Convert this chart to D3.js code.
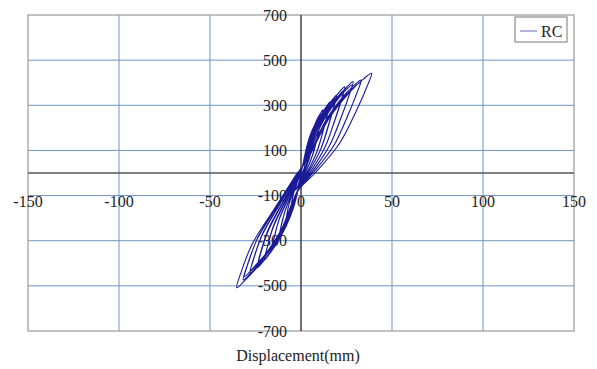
<!DOCTYPE html>
<html>
<head>
<meta charset="utf-8">
<script src="https://cdn.jsdelivr.net/npm/d3@7/dist/d3.min.js"></script>
<style>
html,body{margin:0;padding:0;background:#fff;}
svg{display:block;}
text{font-family:"Liberation Serif","Times New Roman",serif;fill:#222;}
</style>
</head>
<body>
<svg id="chart" width="597" height="369"></svg>
<script>
// ---- data ----
const seriesName = "RC";
const xTicks = [-150, -100, -50, 0, 50, 100, 150];
const yTicks = [-700, -500, -300, -100, 100, 300, 500, 700];
const xLabel = "Displacement(mm)";

// displacement (mm), one line per cycle (positive half, then negative half)
const disp = [0,
 0.2,1.2,2.1,2.6,3,2.8,2.3,1.7,0.6, -0.1,-1.1,-2.0,-2.6,-3,-2.8,-2.3,-1.2,-0.2,
 0.4,2.2,3.9,4.8,5.5,5.1,4.3,3.0,1.1, -0.2,-1.9,-3.7,-4.8,-5.5,-5.1,-4.2,-2.2,-0.3,
 0.7,3.4,6.0,7.6,8.6,8.0,6.7,4.7,1.7, -0.3,-3.0,-5.8,-7.5,-8.5,-7.9,-6.5,-3.4,-0.5,
 1.0,4.8,8.4,10.6,12,11.2,9.4,6.6,2.4, -0.5,-4.2,-8.2,-10.6,-12,-11.2,-9.1,-4.8,-0.7,
 0.9,4.6,8.1,10.1,11.5,10.7,9.0,6.3,2.3, -0.5,-4.0,-7.8,-10.1,-11.5,-10.7,-8.7,-4.6,-0.7,
 1.3,6.4,11.2,14.1,16,14.9,12.5,8.8,3.2, -0.6,-5.6,-10.9,-14.1,-16,-14.9,-12.2,-6.4,-1.0,
 1.2,6.2,10.9,13.6,15.5,14.4,12.1,8.5,3.1, -0.6,-5.4,-10.5,-13.6,-15.5,-14.4,-11.8,-6.2,-0.9,
 1.6,7.8,13.7,17.2,19.6,18.2,15.3,10.8,3.9, -0.8,-7.0,-13.6,-17.6,-20,-18.6,-15.2,-8.0,-1.2,
 1.5,7.6,13.3,16.7,19,17.7,14.8,10.5,3.8, -0.8,-6.8,-13.3,-17.2,-19.5,-18.1,-14.8,-7.8,-1.2,
 1.9,9.6,16.8,21.1,24,22.3,18.7,13.2,4.8, -1.0,-8.4,-16.3,-21.1,-24,-22.3,-18.2,-9.6,-1.4,
 1.9,9.4,16.5,20.7,23.5,21.9,18.3,12.9,4.7, -0.9,-8.2,-16.0,-20.7,-23.5,-21.9,-17.9,-9.4,-1.4,
 2.3,11.4,20.0,25.2,28.6,26.6,22.3,15.7,5.7, -1.1,-9.8,-19.0,-24.6,-28,-26.0,-21.3,-11.2,-1.7,
 2.2,11.2,19.6,24.6,28,26.0,21.8,15.4,5.6, -1.1,-9.6,-18.7,-24.2,-27.5,-25.6,-20.9,-11.0,-1.7,
 2.6,13.2,23.1,29.0,33,30.7,25.7,18.2,6.6, -1.3,-11.1,-21.6,-27.9,-31.7,-29.5,-24.1,-12.7,-1.9,
 2.6,13.0,22.8,28.6,32.5,30.2,25.4,17.9,6.5, -1.2,-10.9,-21.1,-27.3,-31,-28.8,-23.6,-12.4,-1.9,
 3.1,15.5,27.2,34.1,38.8,36.1,30.3,21.3,7.8, -1.4,-12.4,-24.0,-31.1,-35.3,-32.8,-26.8,-14.1,-2.1
];
// force (kN)
const force = [0,
 8,36,53,61,65,56,40,20,0, -11,-41,-62,-71,-75,-65,-47,-23,0,
 15,69,103,118,125,108,78,38,0, -23,-83,-123,-141,-150,-129,-93,-45,0,
 27,125,187,214,228,196,141,68,0, -33,-121,-180,-207,-220,-189,-136,-66,0,
 34,154,230,263,280,241,174,84,0, -43,-157,-234,-268,-285,-245,-177,-86,0,
 31,144,215,246,262,225,162,79,0, -40,-147,-220,-252,-268,-230,-166,-80,0,
 38,174,259,297,316,272,196,95,0, -51,-187,-279,-320,-340,-292,-211,-102,0,
 36,165,246,282,300,258,186,90,0, -48,-177,-264,-303,-322,-277,-200,-97,0,
 41,190,283,324,345,297,214,104,0, -58,-212,-316,-362,-385,-331,-239,-116,0,
 40,182,271,310,330,284,205,99,0, -55,-201,-300,-344,-366,-315,-227,-110,0,
 46,210,313,359,382,329,237,115,0, -63,-231,-344,-395,-420,-361,-260,-126,0,
 44,201,299,343,365,314,226,110,0, -60,-220,-328,-376,-400,-344,-248,-120,0,
 49,223,332,381,405,348,251,122,0, -66,-244,-363,-416,-443,-381,-275,-133,0,
 47,215,320,367,390,335,242,117,0, -64,-235,-351,-402,-428,-368,-265,-128,0,
 49,227,338,387,412,354,255,124,0, -71,-261,-389,-446,-474,-408,-294,-142,0,
 48,220,328,376,400,344,248,120,0, -69,-252,-376,-431,-458,-394,-284,-137,0,
 53,243,362,415,442,380,274,133,0, -76,-279,-417,-478,-508,-437,-315,-152,0
];

// ---- layout ----
const svg = d3.select("#chart");
const L = 28, R = 574, T = 15, B = 331;
const x = d3.scaleLinear().domain([-150, 150]).range([L, R]);
const y = d3.scaleLinear().domain([-700, 700]).range([B, T]);

// gridlines
const gridX = xTicks.filter(v => v !== 0 && v !== -150 && v !== 150);
const gridY = yTicks.filter(v => v !== -700 && v !== 700);
svg.append("g").selectAll("line").data(gridX).join("line")
  .attr("x1", d => x(d)).attr("x2", d => x(d)).attr("y1", T).attr("y2", B)
  .attr("stroke", "#6f93c2").attr("stroke-width", 1);
svg.append("g").selectAll("line").data(gridY).join("line")
  .attr("y1", d => y(d)).attr("y2", d => y(d)).attr("x1", L).attr("x2", R)
  .attr("stroke", "#6f93c2").attr("stroke-width", 1);

// plot border
svg.append("rect").attr("x", L).attr("y", T).attr("width", R - L).attr("height", B - T)
  .attr("fill", "none").attr("stroke", "#9a9a9a").attr("stroke-width", 1.2);

// zero axes
svg.append("line").attr("x1", L).attr("x2", R).attr("y1", y(0)).attr("y2", y(0))
  .attr("stroke", "#555").attr("stroke-width", 1.6);
svg.append("line").attr("x1", x(0)).attr("x2", x(0)).attr("y1", T).attr("y2", B)
  .attr("stroke", "#333").attr("stroke-width", 1.4);

// y tick labels (right-aligned next to the vertical axis)
svg.append("g").selectAll("text").data(yTicks).join("text")
  .attr("x", x(0) - 14).attr("y", d => y(d)).attr("dy", "0.35em")
  .attr("text-anchor", "end").attr("font-size", 16).text(d => d);

// x tick labels
svg.append("g").selectAll("text").data(xTicks).join("text")
  .attr("x", d => x(d)).attr("y", 207)
  .attr("text-anchor", "middle").attr("font-size", 16).text(d => d);

// data curve
const pts = disp.map((d, i) => [d, force[i]]);
const line = d3.line().x(d => x(d[0])).y(d => y(d[1])).curve(d3.curveCatmullRom.alpha(0.5));
svg.append("path").datum(pts).attr("d", line)
  .attr("fill", "none").attr("stroke", "#1a1a96").attr("stroke-width", 1.1)
  .attr("stroke-linejoin", "round");

// x axis title
svg.append("text").attr("x", 298).attr("y", 361).attr("text-anchor", "middle")
  .attr("font-size", 16).text(xLabel);

// legend
const lg = svg.append("g");
lg.append("rect").attr("x", 515).attr("y", 17).attr("width", 52).attr("height", 25)
  .attr("fill", "#fff").attr("stroke", "#777").attr("stroke-width", 1);
lg.append("line").attr("x1", 520).attr("x2", 537).attr("y1", 31).attr("y2", 31)
  .attr("stroke", "#7f7fc6").attr("stroke-width", 1.2);
lg.append("text").attr("x", 541).attr("y", 36.5).attr("font-size", 16).text(seriesName);
</script>
</body>
</html>
